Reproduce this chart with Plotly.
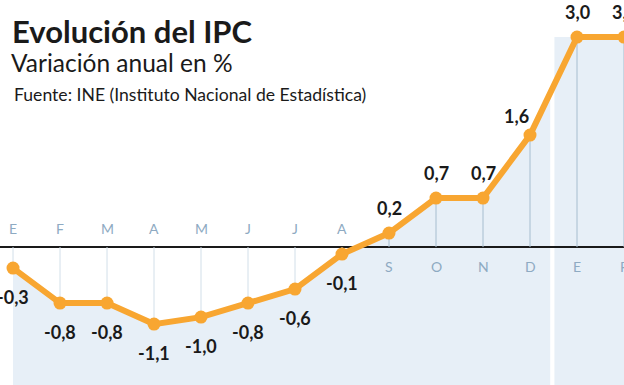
import plotly.graph_objects as go
import numpy as np

# ---- data ----
months = ["E", "F", "M", "A", "M", "J", "J", "A", "S", "O", "N", "D", "E", "F"]
ipc = [-0.3, -0.8, -0.8, -1.1, -1.0, -0.8, -0.6, -0.1, 0.2, 0.7, 0.7, 1.6, 3.0, 3.0]
value_labels = [f"{v:.1f}".replace(".", ",") for v in ipc]
new_year_index = 12

title = "Evolución del IPC"
subtitle = "Variación anual en %"
source = "Fuente: INE (Instituto Nacional de Estadística)"

# ---- style / layout ----
W, H = 624, 385
X_RANGE = [-0.277, 13.0]
Y_RANGE = [-1.97, 3.53]
ORANGE = "#f8a631"
FILL = "#e7eff7"
GRID_NEG = "#d2dfe9"
GRID_POS = "#a6bdcf"
MONTH_COLOR = "#8eaac2"
FONT = "Lato"

x = list(range(len(ipc)))
gap_left = new_year_index - 0.57
gap_right = new_year_index - 0.48
y_gap = float(np.interp(gap_left, x, ipc))

fig = go.Figure()

# first-year area under the line
fx = x[:new_year_index] + [gap_left, gap_left, x[0]]
fy = ipc[:new_year_index] + [y_gap, Y_RANGE[0], Y_RANGE[0]]
fig.add_trace(go.Scatter(x=fx, y=fy, mode="lines", fill="toself",
                         fillcolor=FILL, line=dict(width=0), hoverinfo="skip"))

# zero line
fig.add_trace(go.Scatter(x=[X_RANGE[0] - 1, X_RANGE[1] + 1], y=[0, 0], mode="lines",
                         line=dict(color="#1a1a1a", width=2), hoverinfo="skip"))

# vertical guides from zero to each value
for positive, col in ((False, GRID_NEG), (True, GRID_POS)):
    gx, gy = [], []
    for xi, v in zip(x, ipc):
        if (v > 0) == positive:
            gx += [xi, xi, None]
            gy += [0, v, None]
    fig.add_trace(go.Scatter(x=gx, y=gy, mode="lines",
                             line=dict(color=col, width=1), hoverinfo="skip"))

# main line
fig.add_trace(go.Scatter(x=x, y=ipc, mode="lines+markers",
                         line=dict(color=ORANGE, width=6),
                         marker=dict(color=ORANGE, size=13), hoverinfo="skip"))

# second-year band
fig.add_shape(type="rect", xref="x", yref="y", x0=gap_right, x1=X_RANGE[1] + 1,
              y0=Y_RANGE[0], y1=ipc[new_year_index], fillcolor=FILL,
              line=dict(width=0), layer="below")

annotations = []
for xi, (m, v, lab) in enumerate(zip(months, ipc, value_labels)):
    annotations.append(dict(x=xi, y=0, text=m, showarrow=False,
                            yshift=19 if v < 0 else -19,
                            font=dict(family=FONT, size=14, color=MONTH_COLOR)))
    xs = -14 if xi == new_year_index - 1 else 0
    ys = -29 if v < 0 else (19 if xi == new_year_index - 1 else 25)
    annotations.append(dict(x=xi, y=v, text=f"<b>{lab}</b>", showarrow=False,
                            xshift=xs, yshift=ys,
                            font=dict(family=FONT, size=18, color="#1a1a1a")))

annotations += [
    dict(xref="paper", yref="paper", x=10 / W, y=1 - 31 / H, xanchor="left", yanchor="middle",
         text=f"<b>{title}</b>", showarrow=False,
         font=dict(family=FONT, size=31, color="#1a1a1a")),
    dict(xref="paper", yref="paper", x=9 / W, y=1 - 62 / H, xanchor="left", yanchor="middle",
         text=subtitle, showarrow=False,
         font=dict(family=FONT, size=24.5, color="#1a1a1a")),
    dict(xref="paper", yref="paper", x=12 / W, y=1 - 95 / H, xanchor="left", yanchor="middle",
         text=source, showarrow=False,
         font=dict(family=FONT, size=17.6, color="#1a1a1a")),
]

fig.update_layout(
    width=W, height=H,
    margin=dict(l=0, r=0, t=0, b=0),
    paper_bgcolor="white", plot_bgcolor="white",
    showlegend=False, hovermode=False,
    xaxis=dict(range=X_RANGE, visible=False, fixedrange=True),
    yaxis=dict(range=Y_RANGE, visible=False, fixedrange=True),
    annotations=annotations,
)

fig.write_html("out.html", config={"displayModeBar": False},
               post_script="document.body.style.margin='0';document.body.style.overflow='hidden';")
